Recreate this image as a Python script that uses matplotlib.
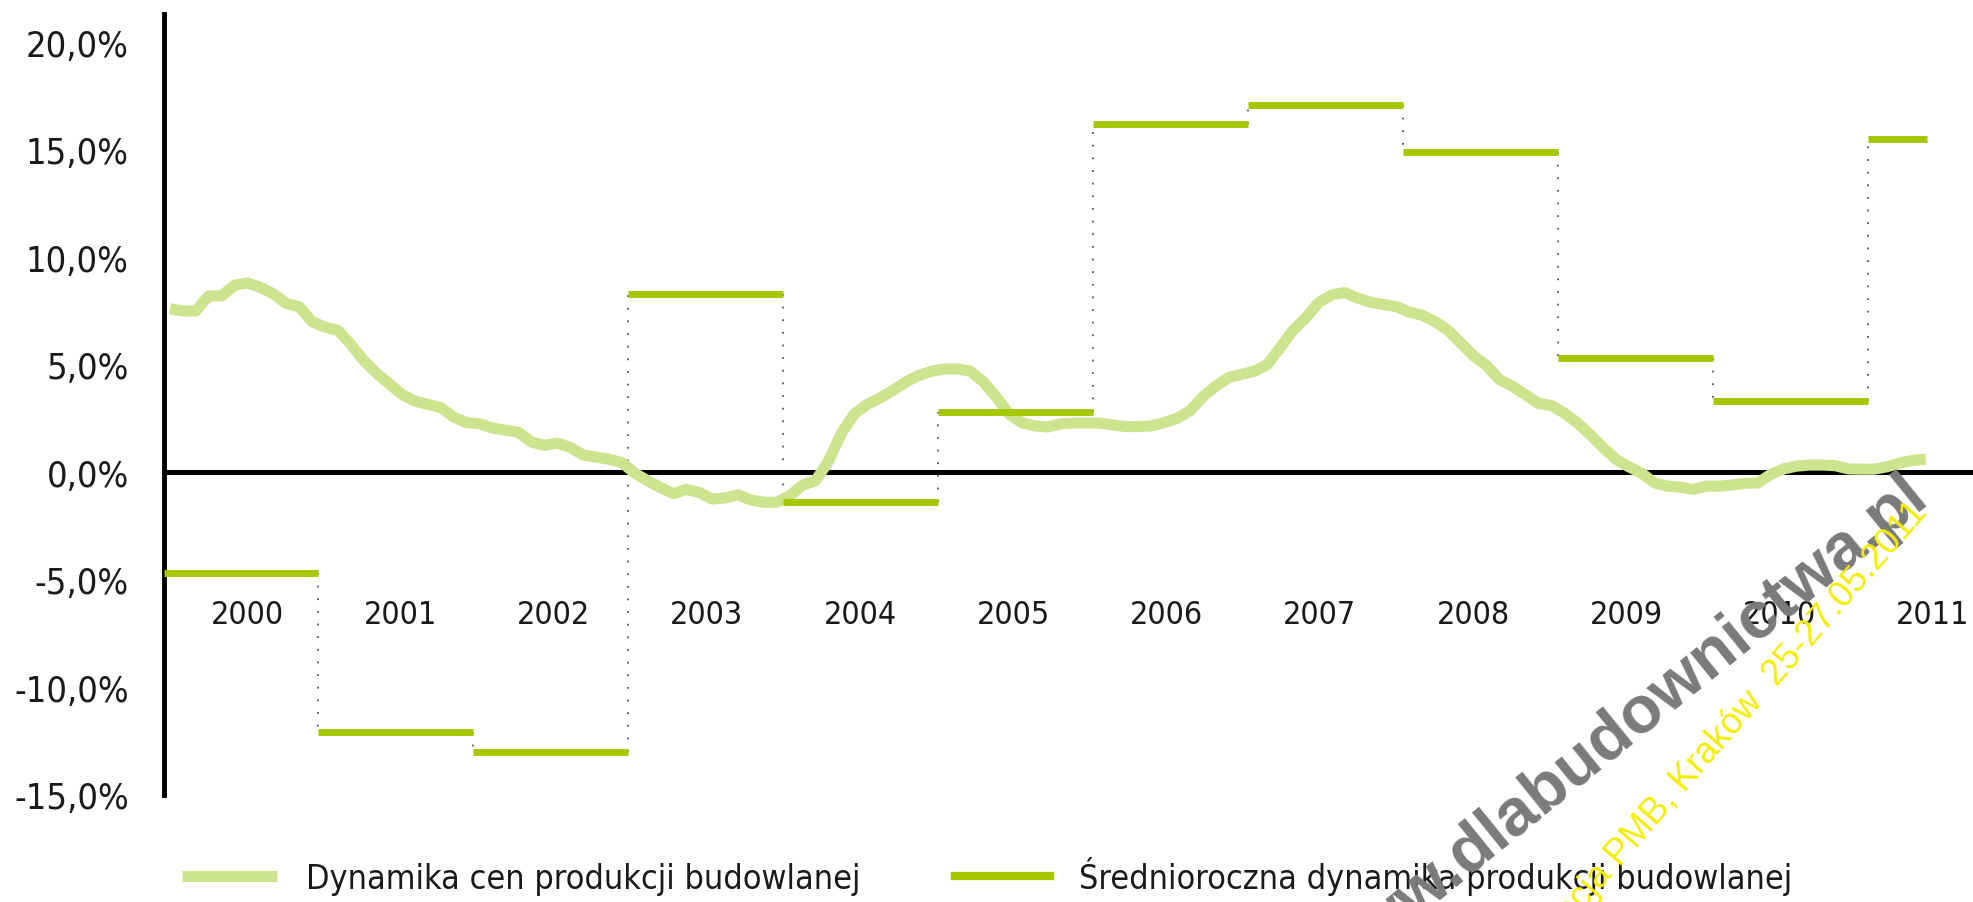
import numpy as np
import matplotlib
matplotlib.use("Agg")
import matplotlib.pyplot as plt
from matplotlib import font_manager as fm
from matplotlib.ticker import FuncFormatter

# dane - dynamika cen produkcji budowlanej (miesiecznie, 2000-01 .. 2011-05), [%]
ceny = [7.6, 7.5, 7.5, 8.2, 8.2, 8.7, 8.8, 8.6, 8.3, 7.85, 7.7, 7.0,
        6.75, 6.6, 5.95, 5.2, 4.6, 4.1, 3.6, 3.3, 3.15, 3.0, 2.55, 2.3,
        2.25, 2.05, 1.95, 1.85, 1.4, 1.25, 1.35, 1.15, 0.8, 0.7, 0.6, 0.45,
        -0.05, -0.4, -0.72, -1.0, -0.8, -0.95, -1.25, -1.2, -1.05, -1.3, -1.4, -1.4,
        -1.1, -0.6, -0.4, 0.5, 1.8, 2.7, 3.15, 3.45, 3.8, 4.2, 4.5, 4.7,
        4.8, 4.8, 4.7, 4.2, 3.5, 2.7, 2.3, 2.15, 2.1, 2.25, 2.28, 2.28,
        2.28, 2.2, 2.12, 2.12, 2.15, 2.3, 2.5, 2.85, 3.5, 4.0, 4.4, 4.55,
        4.7, 5.0, 5.8, 6.6, 7.2, 7.9, 8.25, 8.35, 8.1, 7.9, 7.8, 7.7,
        7.45, 7.3, 7.0, 6.6, 6.0, 5.4, 4.95, 4.3, 4.0, 3.6, 3.2, 3.1,
        2.75, 2.3, 1.75, 1.15, 0.6, 0.25, -0.05, -0.5, -0.65, -0.7, -0.8, -0.65,
        -0.65, -0.6, -0.52, -0.5, -0.1, 0.15, 0.28, 0.33, 0.33, 0.3, 0.15, 0.14,
        0.14, 0.25, 0.42, 0.55, 0.6]

# srednioroczna dynamika produkcji budowlanej [%]
lata = [2000, 2001, 2002, 2003, 2004, 2005, 2006, 2007, 2008, 2009, 2010, 2011]
produkcja = [-4.7, -12.1, -13.0, 8.3, -1.4, 2.8, 16.2, 17.1, 14.9, 5.3, 3.3, 15.5]
koniec_2011 = 2011.38  # dane za 2011 tylko do maja

etykiety_lat = [str(r) for r in lata]
y_ticks = [-15, -10, -5, 0, 5, 10, 15, 20]

kolor_ceny = '#cde48f'
kolor_prod = '#a6c800'


# szukam waskiej czcionki (oryginal ma Myriad Condensed)
def waska_czcionka():
    pref = ['liberationsansnarrow-regular', 'dejavusanscondensed.', 'opensans_condensed',
            'opensanscondensed-regular', 'robotocondensed-regular', 'notosans-condensed.',
            'notosanscondensed-regular']
    pliki = [f.fname for f in fm.fontManager.ttflist]
    for p in pref:
        for f in pliki:
            if p in f.lower().replace(' ', '').replace('_', ''):
                return f
    for f in fm.fontManager.ttflist:
        n = (f.name + f.fname).lower()
        if ('narrow' in n or 'condensed' in n) and 'bold' not in n and 'italic' not in n \
                and 'oblique' not in n and 'light' not in n:
            return f.fname
    return None


plik = waska_czcionka()
if plik:
    skala = 1.0
    def fp(size):
        return fm.FontProperties(fname=plik, size=size)
else:
    skala = 0.8
    def fp(size):
        return fm.FontProperties(family='DejaVu Sans', size=size * skala)

fig = plt.figure(figsize=(19.73, 9.03), dpi=100)
ax = fig.add_axes([0.0829, 0.119, 0.9171, 0.864])

x_ceny = 2000 + (np.arange(len(ceny)) + 0.5) / 12.0
starts = np.array(lata, dtype=float)
ends = starts + 1
ends[-1] = koniec_2011

ax.axhline(0, color='black', lw=3.6, zorder=2)

# kreski laczace schodki
ax.vlines(starts[1:], produkcja[:-1], produkcja[1:], colors='#555555',
          linestyles=(0, (1, 6)), lw=1.3, zorder=1)

l1, = ax.plot(x_ceny, ceny, color=kolor_ceny, lw=8, solid_capstyle='butt', zorder=3)
ax.hlines(produkcja, starts, ends, colors=kolor_prod, lw=5, zorder=4)
l2, = ax.plot([], [], color=kolor_prod, lw=6)

# etykiety lat pod osia zero (ostatnia troche ciasniej, jak w oryginale)
poz_etykiet = np.linspace(2000.54, 2011.42, len(lata))
for xp, lab in zip(poz_etykiet, etykiety_lat):
    ax.text(xp, -6.6, lab, ha='center', va='center',
            fontproperties=fp(23), color='#1a1a1a')

ax.set_xlim(2000, 2011.68)
ax.set_ylim(-15, 21.3)
ax.set_yticks(y_ticks)
ax.yaxis.set_major_formatter(FuncFormatter(lambda v, p: ('%.1f%%' % v).replace('.', ',')))
ax.set_xticks([])
ax.tick_params(axis='y', length=0, pad=25, labelcolor='#1a1a1a')
for t in ax.get_yticklabels():
    t.set_fontproperties(fp(26))

for s in ['top', 'right', 'bottom']:
    ax.spines[s].set_visible(False)
ax.spines['left'].set_linewidth(3.5)
ax.spines['left'].set_bounds(-15, 21.3)

leg = fig.legend([l1, l2], ['Dynamika cen produkcji budowlanej',
                            'Średnioroczna dynamika produkcji budowlanej'],
                 loc='center left', bbox_to_anchor=(0.0922, 0.029), ncol=2,
                 frameon=False, borderpad=0, borderaxespad=0,
                 handlelength=2.8 / skala, handletextpad=0.85 / skala,
                 columnspacing=2.76 / skala, prop=fp(24.5))
for t in leg.get_texts():
    t.set_color('#1a1a1a')

# znak wodny
fig.text(0.9787, 0.443, 'www.dlabudownictwa.pl', ha='right', va='baseline',
         rotation=39, rotation_mode='anchor', fontsize=48, fontweight='bold',
         family='Liberation Sans', color='#7a7a7a', zorder=10)
fig.text(0.9775, 0.432, 'Konferencja PMB, Kraków  25-27.05.2011', ha='right', va='baseline',
         rotation=49, rotation_mode='anchor', fontsize=26,
         family='Liberation Sans', color='#f5ee00', zorder=11)

fig.savefig('out.png', dpi=100)
